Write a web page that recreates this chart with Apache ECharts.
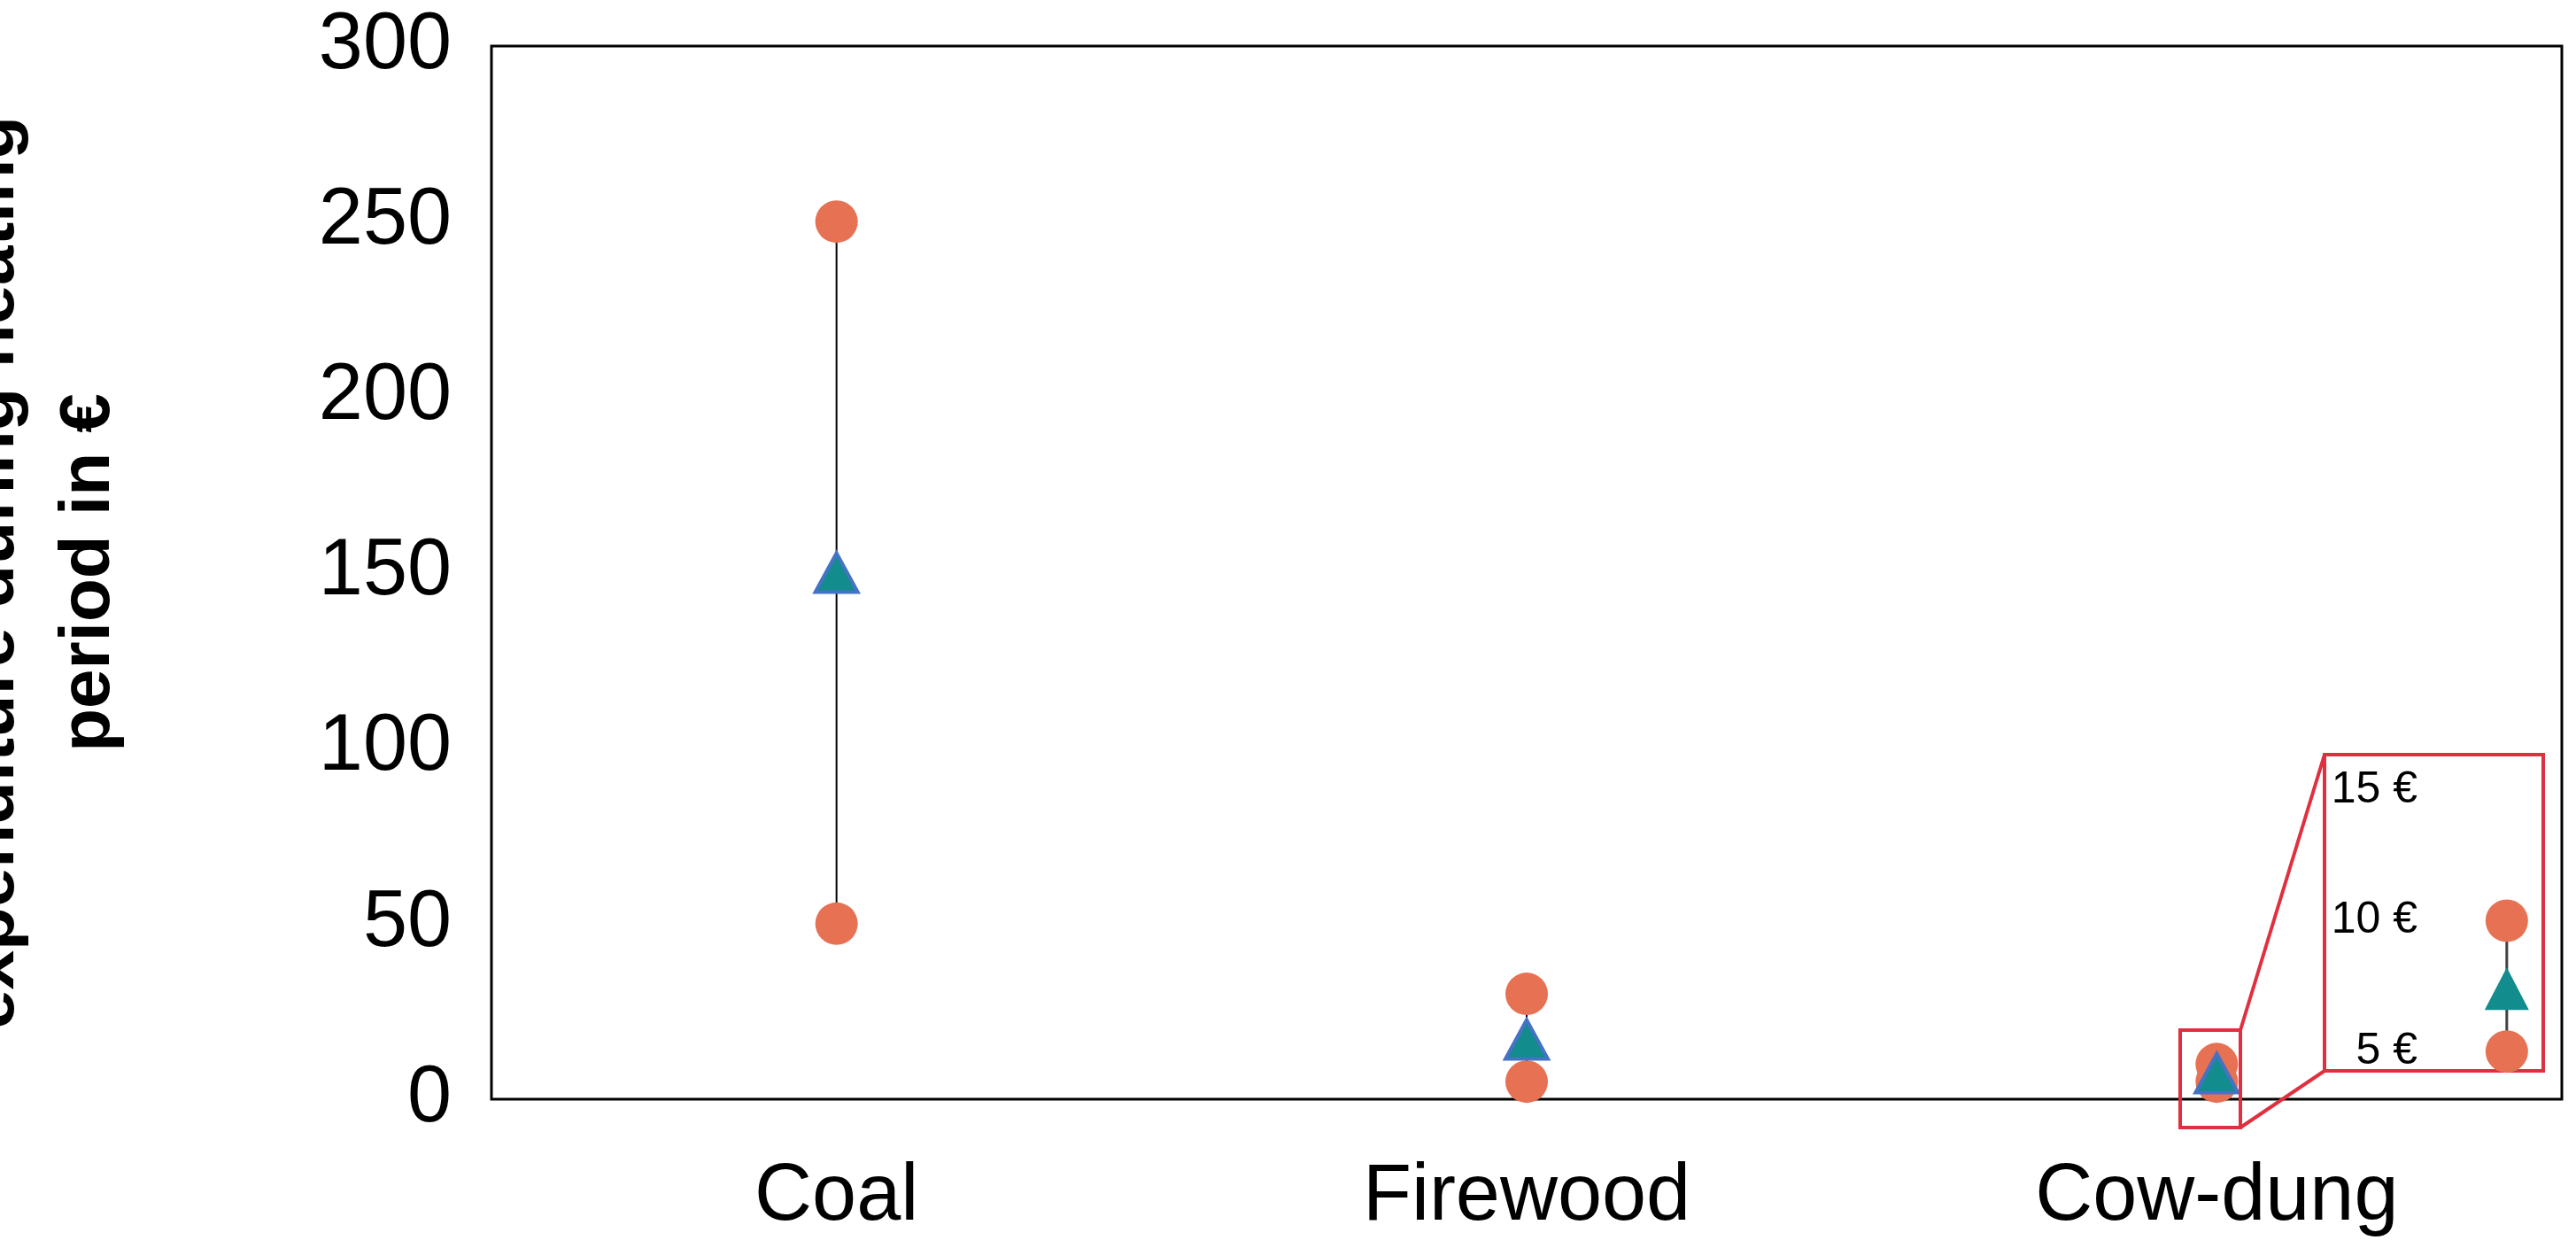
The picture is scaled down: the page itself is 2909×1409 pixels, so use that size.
<!DOCTYPE html>
<html><head><meta charset="utf-8">
<script src="https://cdn.jsdelivr.net/npm/echarts@6/dist/echarts.min.js"></script>
<style>html,body{margin:0;padding:0;background:#fff}#c{width:2909px;height:1409px}</style>
</head><body><div id="c"></div>
<script>
const categories = ['Coal', 'Firewood', 'Cow-dung'];
const minValues = [50, 5, 5];
const maxValues = [250, 30, 10];
const meanValues = [150, 17, 7.4];
const yTicks = [0, 50, 100, 150, 200, 250, 300];
const insetTicks = [5, 10, 15];
const insetCategories = ['', '', 'Cow-dung'];

const orange = '#e67153', teal = '#128c8c', red = '#e0303f';
const chart = echarts.init(document.getElementById('c'));

function rangeSeries(xi, yi, cats, mins, maxs, color, w) {
  return {
    type: 'custom', xAxisIndex: xi, yAxisIndex: yi, z: 1,
    data: cats.map((c, i) => [c, mins[i], maxs[i]]).filter(d => d[1] != null),
    renderItem: (params, api) => {
      const a = api.coord([api.value(0), api.value(1)]);
      const b = api.coord([api.value(0), api.value(2)]);
      return { type: 'line', shape: { x1: a[0], y1: a[1], x2: b[0], y2: b[1] }, style: { stroke: color, lineWidth: w } };
    }
  };
}
const insetCat = 'Cow-dung';
const ci = categories.indexOf(insetCat);

chart.setOption({
  animation: false,
  grid: [
    { left: 555, top: 52, width: 2338, height: 1189, show: true, borderColor: '#000', borderWidth: 3, containLabel: false, outerBoundsMode: 'none' },
    { left: 2625, top: 852, width: 247, height: 357, show: true, borderColor: red, borderWidth: 4, backgroundColor: '#fff', z: 5, containLabel: false, outerBoundsMode: 'none' }
  ],
  xAxis: [
    { type: 'category', data: categories, gridIndex: 0, axisLine: { show: false }, axisTick: { show: false },
      axisLabel: { fontSize: 90, color: '#000', fontFamily: 'Liberation Sans', margin: 66 } },
    { type: 'category', data: insetCategories, gridIndex: 1, show: false, z: 6 }
  ],
  yAxis: [
    { type: 'value', gridIndex: 0, min: 0, max: 300, interval: 50, splitLine: { show: false },
      axisLine: { show: false }, axisTick: { show: false },
      axisLabel: { fontSize: 90, color: '#000', fontFamily: 'Liberation Sans', margin: 45 },
      name: 'Average heating fuel\nexpenditure during heating\nperiod in €', nameLocation: 'middle', nameGap: 400, nameRotate: 90,
      nameTextStyle: { fontSize: 80, fontWeight: 'bold', color: '#000', fontFamily: 'Liberation Sans', lineHeight: 108 } },
    { type: 'value', gridIndex: 1, min: 4.26, max: 16.35, splitLine: { show: false }, axisLine: { show: false }, axisTick: { show: false }, z: 6,
      axisLabel: { inside: true, customValues: insetTicks, align: 'right', margin: 105, fontSize: 50, color: '#000', fontFamily: 'Liberation Sans', formatter: v => v + ' €', showMinLabel: true, showMaxLabel: true } }
  ],
  graphic: [
    { type: 'rect', z: 10, shape: { x: 2462, y: 1163, width: 68, height: 110 }, style: { fill: 'none', stroke: red, lineWidth: 4 } },
    { type: 'line', z: 10, shape: { x1: 2530, y1: 1163, x2: 2625, y2: 852 }, style: { stroke: red, lineWidth: 4 } },
    { type: 'line', z: 10, shape: { x1: 2530, y1: 1273, x2: 2625, y2: 1209 }, style: { stroke: red, lineWidth: 4 } }
  ],
  series: [
    rangeSeries(0, 0, categories, minValues, maxValues, '#000', 2),
    { type: 'scatter', xAxisIndex: 0, yAxisIndex: 0, symbol: 'circle', symbolSize: 48, z: 2,
      itemStyle: { color: orange, opacity: 1 }, data: categories.flatMap((c, i) => [[c, minValues[i]], [c, maxValues[i]]]) },
    { type: 'scatter', xAxisIndex: 0, yAxisIndex: 0, symbol: 'triangle', symbolSize: [48, 44], z: 3,
      itemStyle: { color: teal, borderColor: '#4472c4', borderWidth: 4, opacity: 1 }, data: categories.map((c, i) => [c, meanValues[i]]) },
    Object.assign(rangeSeries(1, 1, [insetCat], [minValues[ci]], [maxValues[ci]], '#404040', 3), { z: 7 }),
    { type: 'scatter', xAxisIndex: 1, yAxisIndex: 1, symbol: 'circle', symbolSize: 48, z: 8, clip: false,
      itemStyle: { color: orange, opacity: 1 }, data: [[insetCat, minValues[ci]], [insetCat, maxValues[ci]]] },
    { type: 'scatter', xAxisIndex: 1, yAxisIndex: 1, symbol: 'triangle', symbolSize: [50, 48], z: 9,
      itemStyle: { color: teal, opacity: 1 }, data: [[insetCat, meanValues[ci]]] }
  ]
});
</script></body></html>
